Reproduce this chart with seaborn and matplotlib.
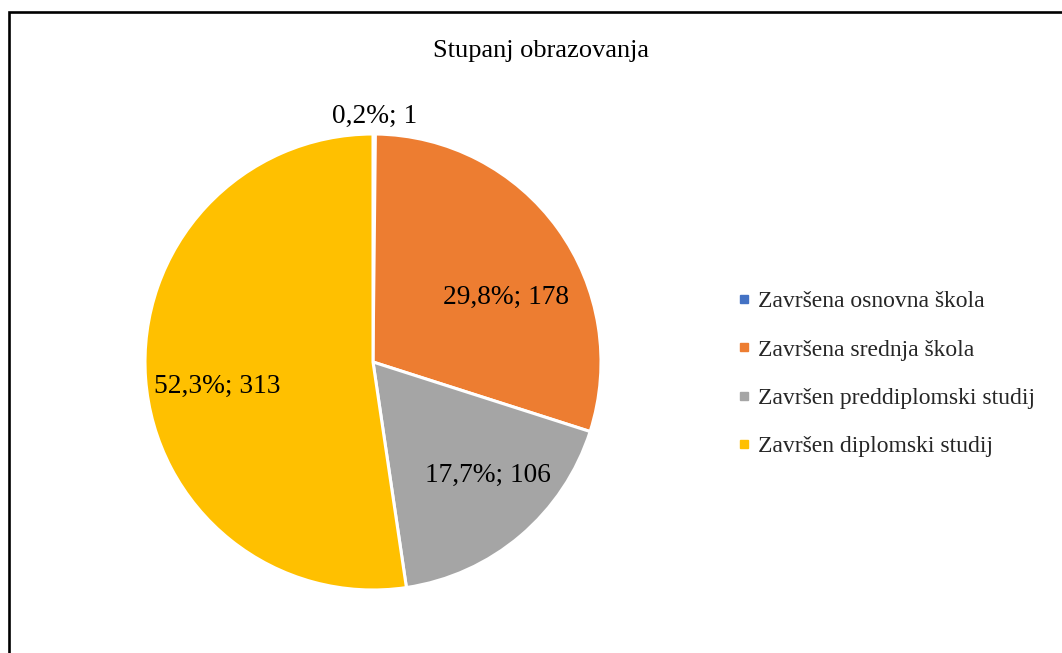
import numpy as np
import matplotlib
matplotlib.use("Agg")
import matplotlib.pyplot as plt
from matplotlib.lines import Line2D
from matplotlib.patches import Rectangle
import seaborn as sns

categories = ["Završena osnovna škola", "Završena srednja škola",
              "Završen preddiplomski studij", "Završen diplomski studij"]
counts = [1, 178, 106, 313]
pct_labels = ["0,2%; 1", "29,8%; 178", "17,7%; 106", "52,3%; 313"]
colors = ["#4472C4", "#ED7D31", "#A5A5A5", "#FFC000"]
title = "Stupanj obrazovanja"

sns.set_theme(style="white")
plt.rcParams["font.family"] = ["Liberation Serif", "DejaVu Serif"]

W, H = 1062, 653
fig = plt.figure(figsize=(W / 100, H / 100), dpi=100)
fig.patch.set_facecolor("white")

# figure frame (left and top visible, running off right/bottom)
fig.patches.append(Rectangle((9 / W, -0.05), 1.2, 1.05 - 12 / H,
                             transform=fig.transFigure, fill=False,
                             edgecolor="black", linewidth=1.9, zorder=10))

cx, cy, R = 373, 362, 228
ax = fig.add_axes([(cx - R) / W, (H - cy - R) / H, 2 * R / W, 2 * R / H])
wedges, _ = ax.pie(counts, colors=colors, startangle=90, counterclock=False,
                   radius=1.0,
                   wedgeprops=dict(edgecolor="white", linewidth=2.2))
ax.set_xlim(-1, 1)
ax.set_ylim(-1, 1)
ax.set_aspect("equal")
ax.axis("off")

rfrac = [1.075, 0.65, 0.71, 0.69]
angoff = [0, -10, 5, 4.6]
for w, lab, rf, ao in zip(wedges, pct_labels, rfrac, angoff):
    ang = np.deg2rad((w.theta1 + w.theta2) / 2 + ao)
    ax.text(rf * np.cos(ang), rf * np.sin(ang), lab, ha="center", va="center",
            fontsize=19.7, color="black", clip_on=False)

fig.text(541 / W, 1 - 51 / H, title, ha="center", va="center", fontsize=19,
         color="black")

handles = [Line2D([0], [0], marker="s", linestyle="none", markersize=5.5,
                  markerfacecolor=c, markeredgecolor=c) for c in colors]
fig.legend(handles, categories, loc="center left",
           bbox_to_anchor=(725 / W, 1 - 374 / H), frameon=False,
           fontsize=17, handlelength=0.6, handletextpad=0.3,
           labelspacing=1.13, borderpad=0)

fig.savefig("out.png", dpi=100, facecolor="white")
